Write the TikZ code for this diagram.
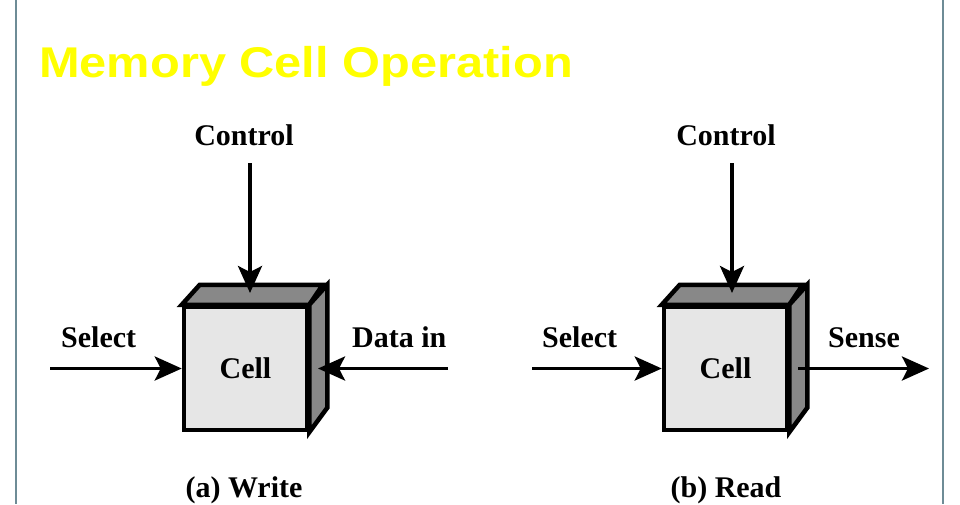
\documentclass[tikz,border=0pt]{standalone}
\usepackage{fontspec}
\setmainfont{Liberation Serif}
\newfontfamily\titlefont{Liberation Sans}
\usetikzlibrary{arrows.meta}
\definecolor{frameline}{RGB}{110,140,150}
\definecolor{facefront}{RGB}{230,230,230}
\definecolor{faceside}{RGB}{136,136,136}
\definecolor{titleyellow}{RGB}{255,255,0}
\begin{document}
\begin{tikzpicture}[x=1pt,y=-1pt,
  lbl/.style={font=\fontsize{30}{36}\selectfont\bfseries, inner sep=0pt, anchor=base},
  front/.style={draw, line width=4.5pt, fill=facefront, minimum width=123pt, minimum height=123pt, inner sep=0pt, font=\fontsize{30}{36}\selectfont\bfseries},
  face/.style={draw, line width=4.5pt, fill=faceside, line join=miter},
  sig/.style={line width=3.5pt, -{Stealth[length=27pt,width=24pt,inset=6pt]}},
  frame/.style={draw=frameline, line width=1.5pt}]
\useasboundingbox (0,0) rectangle (960,504);
\fill[white] (0,0) rectangle (960,504);
% frame lines
\coordinate (fl1) at (16,0); \coordinate (fl2) at (16,504);
\coordinate (fr1) at (943,0); \coordinate (fr2) at (943,504);
\draw[frame] (fl1) -- (fl2);
\draw[frame] (fr1) -- (fr2);
% title
\node[font=\titlefont\fontsize{43}{50}\selectfont\bfseries, text=titleyellow, anchor=base west, inner sep=0pt] (title) at (39,77) {\scalebox{1.134}[1]{Memory Cell Operation}};

% ---- (a) Write ----
\node[front] (cellA) at (245.5,368.5) {Cell};
\filldraw[face] (cellA.north west) -- ++(18,-20) -- ++(123,0) -- (cellA.north east) -- cycle;
\filldraw[face] (cellA.north east) -- ++(18,-20) -- ++(0,123) -- (cellA.south east) -- cycle;
\node[lbl] (ctlAlab) at (244,145) {Control};
\node[lbl,anchor=base west] (selAlab) at (61,347) {Select};
\node[lbl,anchor=base west] (dinlab) at (352,347) {Data in};
\node[lbl] (capA) at (244,497) {(a) Write};
\coordinate (ctlA) at (250,163); \coordinate (ctlAend) at (250,293);
\coordinate (selA) at (50,368.5);
\coordinate (dinA) at (448,368.5); \coordinate (dinAend) at (318,368.5);
\draw[sig] (ctlA) -- (ctlAend);
\draw[sig] (selA) -- (cellA.west);
\draw[sig] (dinA) -- (dinAend);

% ---- (b) Read ----
\node[front] (cellB) at (725.5,368.5) {Cell};
\filldraw[face] (cellB.north west) -- ++(18,-20) -- ++(123,0) -- (cellB.north east) -- cycle;
\filldraw[face] (cellB.north east) -- ++(18,-20) -- ++(0,123) -- (cellB.south east) -- cycle;
\node[lbl] (ctlBlab) at (726,145) {Control};
\node[lbl,anchor=base west] (selBlab) at (542,347) {Select};
\node[lbl,anchor=base west] (senlab) at (828,347) {Sense};
\node[lbl] (capB) at (726,497) {(b) Read};
\coordinate (ctlB) at (732,163); \coordinate (ctlBend) at (732,293);
\coordinate (selB) at (532,368.5);
\coordinate (senB) at (798,368.5); \coordinate (senBend) at (929,368.5);
\draw[sig] (ctlB) -- (ctlBend);
\draw[sig] (selB) -- (cellB.west);
\draw[sig] (senB) -- (senBend);
\end{tikzpicture}
\end{document}
